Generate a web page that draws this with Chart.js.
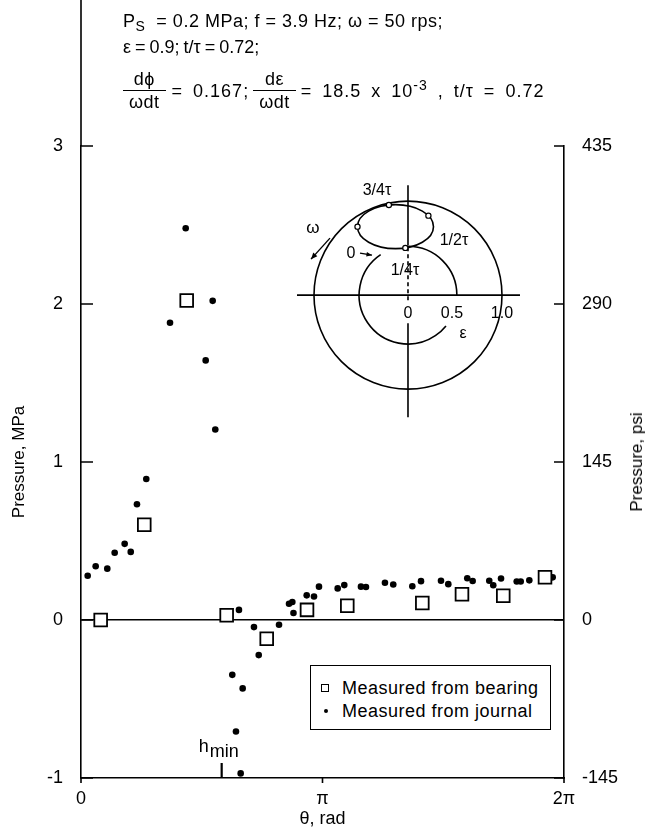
<!DOCTYPE html>
<html>
<head>
<meta charset="utf-8">
<script src="https://cdn.jsdelivr.net/npm/chart.js@4.4.0/dist/chart.umd.min.js"></script>
<style>
  html, body { margin: 0; padding: 0; background: #fff; }
  #wrap { position: relative; width: 646px; height: 832px; overflow: hidden;
          font-family: "Liberation Sans", Arial, Helvetica, sans-serif; color: #000; }
  #chart { position: absolute; left: 0; top: 0; }
  .hdr { position: absolute; left: 123px; font-size: 18px; line-height: 22px;
         letter-spacing: 0.5px; white-space: nowrap; }
  .hdr sub { font-size: 14px; vertical-align: -4px; line-height: 0; }
  .hdr sup { font-size: 14px; vertical-align: 7px; line-height: 0; }
  .tight { letter-spacing: 0; word-spacing: -1px; }
  .row3 { display: flex; align-items: center; }
  .row3 .txt { letter-spacing: 1px; word-spacing: 4px; }
  .frac { display: inline-flex; flex-direction: column; align-items: stretch; text-align: center; }
  .frac .num { border-bottom: 1.6px solid #000; padding: 0 6px 1px 6px; line-height: 20px; }
  .frac .den { padding: 1px 6px 0 6px; line-height: 20px; }
  #ytitle2 { position: absolute; left: 637px; top: 462px; font-size: 17px; white-space: nowrap;
             transform: translate(-50%, -50%) rotate(-90deg); }
  #legend { position: absolute; left: 310px; top: 665px; width: 241px; height: 65px;
            border: 1.6px solid #000; box-sizing: border-box; background: #fff; }
  .lg-item { position: absolute; left: 0; font-size: 18px; letter-spacing: 0.5px; white-space: nowrap; }
  .lg-sym { position: absolute; }
  .lg-text { position: absolute; left: 31px; top: 0; line-height: 22px; }
</style>
</head>
<body>
<div id="wrap">
  <canvas id="chart" width="646" height="832"></canvas>

  <div class="hdr" style="top:10px;">P<sub>S</sub>&nbsp; = 0.2 MPa; f = 3.9 Hz; ω = 50 rps;</div>
  <div class="hdr tight" style="top:36px;">ε = 0.9; t/τ = 0.72;</div>
  <div class="hdr row3" style="top:69px;">
    <span class="frac"><span class="num">dϕ</span><span class="den">ωdt</span></span>
    <span class="txt" style="margin-left:6px;">= 0.167;</span>
    <span class="frac" style="margin-left:4px;"><span class="num">dε</span><span class="den">ωdt</span></span>
    <span class="txt" style="margin-left:5px;">= 18.5 x 10<sup>-3</sup> , t/τ = 0.72</span>
  </div>

  <div id="ytitle2">Pressure, psi</div>
  <div id="legend"></div>
</div>

<script>
// Angular position around the bearing, rad, and film pressure, MPa
const journalTheta = [0.087, 0.191, 0.342, 0.438, 0.568, 0.647, 0.728, 0.849, 1.158, 1.362,
                      1.622, 1.713, 1.747, 1.968, 2.016, 2.055, 2.077, 2.103, 2.250, 2.312,
                      2.576, 2.706, 2.749, 2.764, 2.936, 3.031, 3.096, 3.339, 3.425, 3.642,
                      3.707, 3.954, 4.062, 4.310, 4.423, 4.683, 4.778, 5.025, 5.095, 5.311,
                      5.363, 5.464, 5.668, 5.720, 5.832, 6.136];
const journalP     = [0.28, 0.34, 0.325, 0.426, 0.482, 0.431, 0.733, 0.892, 1.881, 2.479,
                      1.643, 2.02, 1.206, -0.347, -0.706, 0.064, -0.971, -0.433, -0.045, -0.222,
                      -0.03, 0.103, 0.114, 0.044, 0.156, 0.149, 0.211, 0.2, 0.221, 0.211,
                      0.209, 0.236, 0.225, 0.214, 0.246, 0.248, 0.227, 0.264, 0.247, 0.248,
                      0.22, 0.263, 0.244, 0.244, 0.251, 0.27];

const bearingTheta = [0.256, 0.823, 1.375, 1.895, 2.416, 2.940, 3.464, 4.440, 4.956, 5.493, 6.036];
const bearingP     = [0.0, 0.603, 2.022, 0.03, -0.119, 0.064, 0.09, 0.108, 0.163, 0.154, 0.271];

const seriesLabels = ['Measured from bearing', 'Measured from journal'];

// Axis ticks
const thetaTicks      = [0, Math.PI, 2 * Math.PI];
const thetaTickLabels = ['0', 'π', '2π'];
const mpaTicks        = [-1, 0, 1, 2, 3];
const psiTicks        = [-145, 0, 145, 290, 435];

// Location of the minimum film thickness, rad
const hMinTheta = 1.83;

const FONT = '"Liberation Sans", Arial, Helvetica, sans-serif';
Chart.defaults.font.family = FONT;
Chart.defaults.color = '#000';

// Orbit sketch placed in the upper right of the plot area
const ORBIT = { fx: 0.677, fy: 0.236, r: 94 };

const rad = a => a * Math.PI / 180;

function arrow(ctx, x1, y1, x2, y2, head) {
  const ang = Math.atan2(y2 - y1, x2 - x1);
  ctx.beginPath();
  ctx.moveTo(x1, y1);
  ctx.lineTo(x2, y2);
  ctx.stroke();
  ctx.beginPath();
  ctx.moveTo(x2, y2);
  ctx.lineTo(x2 - head * Math.cos(ang - 0.4), y2 - head * Math.sin(ang - 0.4));
  ctx.lineTo(x2 - head * Math.cos(ang + 0.4), y2 - head * Math.sin(ang + 0.4));
  ctx.closePath();
  ctx.fill();
}

const orbitPlugin = {
  id: 'orbitSketch',
  afterDraw(chart) {
    const { ctx, chartArea: a } = chart;
    const cx = a.left + ORBIT.fx * (a.right - a.left);
    const cy = a.top + ORBIT.fy * (a.bottom - a.top);
    const R = ORBIT.r;
    const r = 0.52 * R;
    ctx.save();
    ctx.strokeStyle = '#000';
    ctx.fillStyle = '#000';
    ctx.lineWidth = 1.6;

    // eccentricity circle 1.0
    ctx.beginPath();
    ctx.arc(cx, cy, R, 0, 2 * Math.PI);
    ctx.stroke();

    // horizontal reference line
    ctx.beginPath();
    ctx.moveTo(cx - 111, cy);
    ctx.lineTo(cx + 112, cy);
    ctx.stroke();

    // vertical reference line
    ctx.beginPath();
    ctx.moveTo(cx, cy - 110);
    ctx.lineTo(cx, cy - 50);
    ctx.moveTo(cx, cy + 28);
    ctx.lineTo(cx, cy + 122);
    ctx.stroke();
    ctx.setLineDash([4, 3]);
    ctx.beginPath();
    ctx.moveTo(cx, cy - 48);
    ctx.lineTo(cx, cy + 7);
    ctx.stroke();
    ctx.setLineDash([]);

    // journal centre path
    ctx.beginPath();
    ctx.arc(cx, cy, r, rad(236), rad(39), true);
    ctx.stroke();
    ctx.beginPath();
    ctx.arc(cx, cy, r, 0, rad(-94), true);
    ctx.stroke();

    const ex = cx - 12.5, ey = cy - 68.5, erx = 38, ery = 22;
    ctx.beginPath();
    ctx.ellipse(ex, ey, erx, ery, 0, 0, 2 * Math.PI);
    ctx.stroke();

    // time markers on the loop
    ctx.fillStyle = '#fff';
    ctx.lineWidth = 1.2;
    [180, 260, 330, 75].forEach(t => {
      const px = ex + erx * Math.cos(rad(t));
      const py = ey + ery * Math.sin(rad(t));
      ctx.beginPath();
      ctx.arc(px, py, 2.6, 0, 2 * Math.PI);
      ctx.fill();
      ctx.stroke();
    });

    // labels
    ctx.fillStyle = '#000';
    ctx.font = '16px ' + FONT;
    ctx.textAlign = 'center';
    ctx.textBaseline = 'middle';
    ctx.fillText('3/4τ', cx - 31, cy - 105);
    ctx.fillText('1/2τ', cx + 46, cy - 55);
    ctx.fillText('1/4τ', cx - 3, cy - 25);
    ctx.fillText('0', cx - 57, cy - 42);
    ctx.fillText('0', cx, cy + 18);
    ctx.fillText('0.5', cx + 44, cy + 18);
    ctx.fillText('1.0', cx + 94, cy + 18);
    ctx.fillText('ε', cx + 55, cy + 38);
    ctx.font = '17px ' + FONT;
    ctx.fillText('ω', cx - 95, cy - 67);

    ctx.lineWidth = 1.4;
    arrow(ctx, cx - 78, cy - 57, cx - 97, cy - 36, 7);
    arrow(ctx, cx - 48, cy - 42, cx - 36, cy - 40, 6);
    ctx.restore();
  }
};

const axisMarksPlugin = {
  id: 'axisMarks',
  afterDraw(chart) {
    const { ctx, chartArea: a, scales: { x, y, y2 } } = chart;
    ctx.save();
    ctx.strokeStyle = '#000';
    ctx.lineWidth = 1.6;
    ctx.beginPath();
    // left axis continues up to the page top
    ctx.moveTo(a.left, 0);
    ctx.lineTo(a.left, a.top);
    // inward tick marks
    y.ticks.forEach(t => {
      const p = y.getPixelForValue(t.value);
      ctx.moveTo(a.left, p); ctx.lineTo(a.left + 12, p);
    });
    y2.ticks.forEach(t => {
      const p = y2.getPixelForValue(t.value);
      ctx.moveTo(a.right, p); ctx.lineTo(a.right - 10, p);
    });
    x.ticks.forEach(t => {
      const p = x.getPixelForValue(t.value);
      ctx.moveTo(p, a.bottom); ctx.lineTo(p, a.bottom + 5);
    });
    ctx.stroke();

    // minimum film thickness marker
    const hx = x.getPixelForValue(hMinTheta);
    ctx.lineWidth = 2.2;
    ctx.beginPath();
    ctx.moveTo(hx, a.bottom);
    ctx.lineTo(hx, a.bottom - 15);
    ctx.stroke();
    ctx.fillStyle = '#000';
    ctx.textBaseline = 'alphabetic';
    ctx.textAlign = 'left';
    ctx.font = '18px ' + FONT;
    ctx.fillText('h', hx - 23, a.bottom - 26);
    ctx.fillText('min', hx - 12, a.bottom - 21);
    ctx.restore();
  }
};

const ctx = document.getElementById('chart').getContext('2d');
const chart = new Chart(ctx, {
  type: 'scatter',
  data: {
    datasets: [
      {
        label: seriesLabels[0],
        data: bearingTheta.map((t, i) => ({ x: t, y: bearingP[i] })),
        pointStyle: 'rect',
        pointRadius: 9,
        backgroundColor: '#fff',
        borderColor: '#000',
        borderWidth: 1.8,
        yAxisID: 'y'
      },
      {
        label: seriesLabels[1],
        data: journalTheta.map((t, i) => ({ x: t, y: journalP[i] })),
        pointStyle: 'circle',
        pointRadius: 3.3,
        backgroundColor: '#000',
        borderColor: '#000',
        borderWidth: 0,
        yAxisID: 'y'
      }
    ]
  },
  options: {
    responsive: false,
    animation: false,
    devicePixelRatio: 1,
    layout: { padding: { top: 146, left: 0, right: 0, bottom: 0 } },
    plugins: { legend: { display: false }, tooltip: { enabled: false } },
    scales: {
      x: {
        type: 'linear', min: 0, max: 2 * Math.PI,
        afterBuildTicks: s => { s.ticks = thetaTicks.map(v => ({ value: v })); },
        afterFit: s => { s.height = 54; },
        ticks: {
          autoSkip: false, maxRotation: 0, padding: 10,
          font: { size: 18 },
          callback: (v, i) => thetaTickLabels[i]
        },
        grid: { drawOnChartArea: false, drawTicks: false },
        border: { display: true, color: '#000', width: 1.6 },
        title: { display: true, text: 'θ, rad', font: { size: 18 }, padding: { top: 0, bottom: 2 } }
      },
      y: {
        type: 'linear', position: 'left', min: -1, max: 3,
        afterBuildTicks: s => { s.ticks = mpaTicks.map(v => ({ value: v })); },
        afterFit: s => { s.width = 81; },
        ticks: { padding: 18, font: { size: 18 }, callback: v => String(v) },
        grid: {
          drawOnChartArea: true, drawTicks: false,
          color: c => (c.tick && c.tick.value === 0 ? '#000' : 'rgba(0,0,0,0)'),
          lineWidth: 1.6
        },
        border: { display: true, color: '#000', width: 1.6 },
        title: { display: true, text: 'Pressure, MPa', font: { size: 17 }, padding: { top: 9, bottom: 0 } }
      },
      y2: {
        type: 'linear', position: 'right', min: -145, max: 435,
        afterBuildTicks: s => { s.ticks = psiTicks.map(v => ({ value: v })); },
        afterFit: s => { s.width = 82; },
        ticks: { padding: 18, font: { size: 18 }, callback: v => String(v) },
        grid: { drawOnChartArea: false, drawTicks: false },
        border: { display: true, color: '#000', width: 1.6 }
      }
    }
  },
  plugins: [orbitPlugin, axisMarksPlugin]
});

// Boxed legend inside the plot, built from the datasets
(function buildLegend() {
  const box = document.getElementById('legend');
  chart.data.datasets.forEach((ds, i) => {
    const item = document.createElement('div');
    item.className = 'lg-item';
    item.style.top = (i === 0 ? 11 : 34) + 'px';
    item.style.height = '22px';
    item.style.width = '100%';
    const sym = document.createElement('div');
    sym.className = 'lg-sym';
    if (ds.pointStyle === 'rect') {
      Object.assign(sym.style, { left: '10px', top: '7px', width: '6px', height: '6px',
        border: '1.5px solid #000', background: '#fff' });
    } else {
      Object.assign(sym.style, { left: '13px', top: '9px', width: '4px', height: '4px',
        borderRadius: '50%', background: '#000' });
    }
    const txt = document.createElement('div');
    txt.className = 'lg-text';
    txt.textContent = ds.label;
    item.appendChild(sym);
    item.appendChild(txt);
    box.appendChild(item);
  });
})();
</script>
</body>
</html>
